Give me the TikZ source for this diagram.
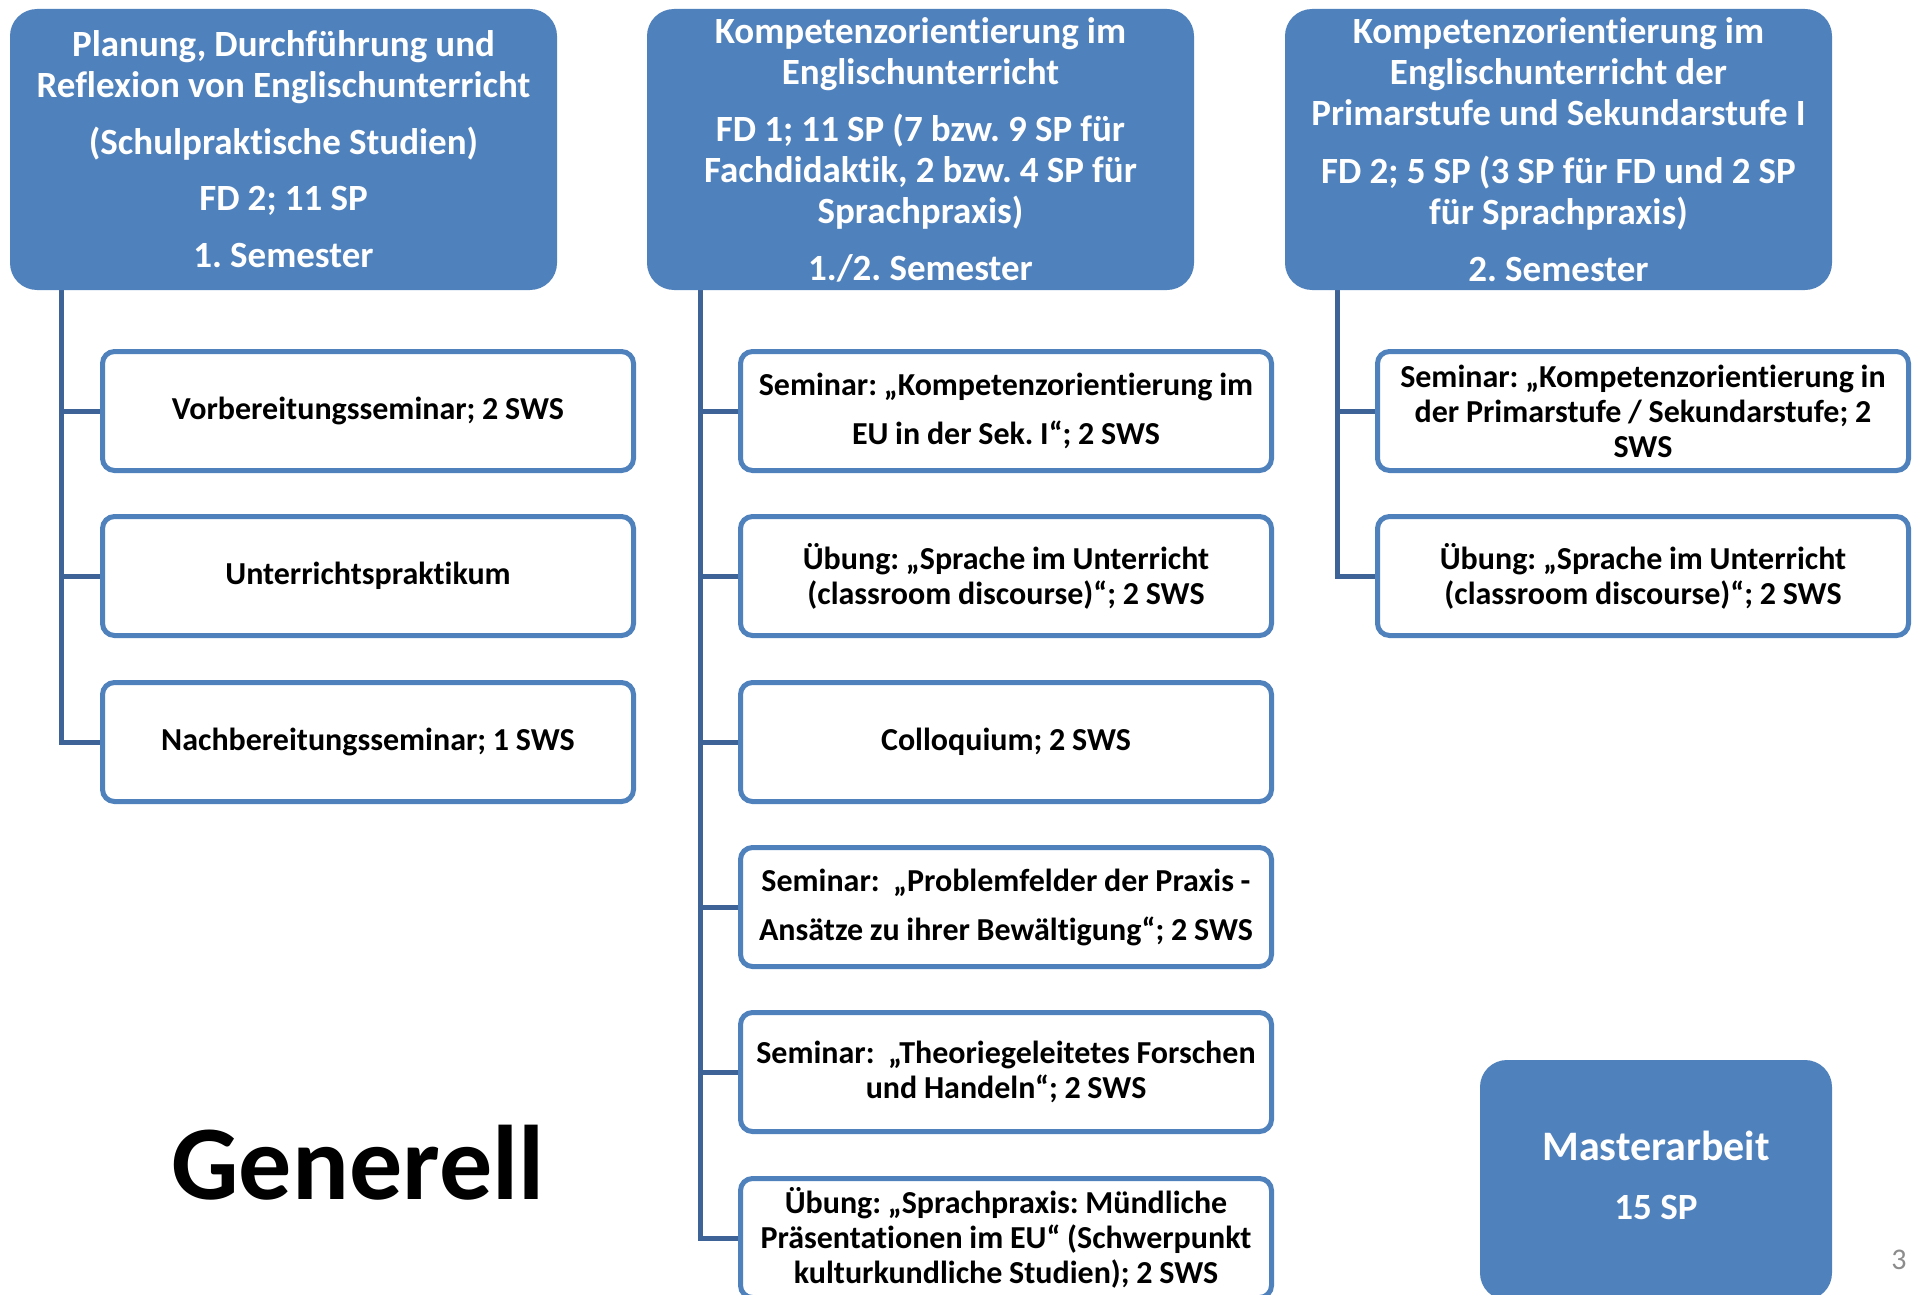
\documentclass[tikz,border=0pt]{standalone}
\usepackage{fontspec}
\setmainfont{Carlito}[Ligatures=NoCommon]
\definecolor{hdrblue}{HTML}{4F81BD}
\definecolor{connblue}{HTML}{3E6397}
\definecolor{pagegray}{HTML}{8C8C8C}
\tikzset{
  hdrbox/.style={draw=none, fill=hdrblue, rounded corners=27pt, text=white,
    font=\fontsize{37}{41}\selectfont\bfseries\frenchspacing, align=center,
    execute at begin node={\spaceskip=0.22em\relax},
    minimum width=547pt, minimum height=281pt, inner sep=0pt, text width=540pt},
  subbox/.style={draw=hdrblue, line width=5pt, fill=white, rounded corners=12pt,
    font=\fontsize{32}{35}\selectfont\bfseries\frenchspacing, align=center,
    execute at begin node={\spaceskip=0.21em\relax},
    minimum width=531pt, minimum height=119pt, inner sep=0pt, text width=528pt},
  connline/.style={draw=connblue, line width=5pt}
}
\begin{document}
\begin{tikzpicture}[x=1pt,y=-1pt]
\useasboundingbox (0,0) rectangle (1915,1295);
\clip (0,0) rectangle (1915,1295);
\fill[white] (0,0) rectangle (1915,1295);

% trunk tops
\coordinate (t1) at (61,285);
\coordinate (t2) at (700,285);
\coordinate (t3) at (1337,285);

% column 1 boxes
\node[subbox] (a1) at (368,411) {Vorbereitungsseminar; 2 SWS};
\node[subbox] (a2) at (368,576) {Unterrichtspraktikum};
\node[subbox] (a3) at (368,742) {Nachbereitungsseminar; 1 SWS};

% column 2 boxes
\node[subbox] (b1) at (1006,411) {Seminar: „Kompetenzorientierung im\\[14pt]EU in der Sek. I“; 2 SWS};
\node[subbox] (b2) at (1006,576) {Übung: „Sprache im Unterricht\\(classroom discourse)“; 2 SWS};
\node[subbox] (b3) at (1006,742) {Colloquium; 2 SWS};
\node[subbox] (b4) at (1006,907) {Seminar:\ \ „Problemfelder der Praxis -\\[14pt]Ansätze zu ihrer Bewältigung“; 2 SWS};
\node[subbox] (b5) at (1006,1072) {Seminar:\ \ „Theoriegeleitetes Forschen\\und Handeln“; 2 SWS};
\node[subbox] (b6) at (1006,1238) {Übung: „Sprachpraxis: Mündliche\\Präsentationen im EU“ (Schwerpunkt\\kulturkundliche Studien); 2 SWS};

% column 3 boxes
\node[subbox] (c1) at (1643,411) {Seminar: „Kompetenzorientierung in\\der Primarstufe / Sekundarstufe; 2\\SWS};
\node[subbox] (c2) at (1643,576) {Übung: „Sprache im Unterricht\\(classroom discourse)“; 2 SWS};

% connectors
\foreach \b in {a1,a2,a3} \draw[connline] (t1) |- (\b.west);
\foreach \b in {b1,b2,b3,b4,b5,b6} \draw[connline] (t2) |- (\b.west);
\foreach \b in {c1,c2} \draw[connline] (t3) |- (\b.west);

% headers
\node[hdrbox] (h1) at (283.5,149.5) {Planung, Durchführung und\\Reflexion von Englischunterricht\\[16pt](Schulpraktische Studien)\\[15pt]FD 2; 11 SP\\[16pt]1. Semester};
\node[hdrbox] (h2) at (920.5,149.5) {Kompetenzorientierung im\\Englischunterricht\\[16pt]FD 1; 11 SP (7 bzw. 9 SP für\\Fachdidaktik, 2 bzw. 4 SP für\\Sprachpraxis)\\[16pt]1./2. Semester};
\node[hdrbox] (h3) at (1558.5,149.5) {Kompetenzorientierung im\\Englischunterricht der\\Primarstufe und Sekundarstufe I\\[17pt]FD 2; 5 SP (3 SP für FD und 2 SP\\für Sprachpraxis)\\[16pt]2. Semester};

% Masterarbeit
\node[draw=none, fill=hdrblue, rounded corners=27pt, minimum width=352pt, minimum height=240pt, inner sep=0pt] (m) at (1656,1180) {};
\node[text=white, font=\fontsize{42}{46}\selectfont\bfseries] (mt1) at (1656,1146) {Masterarbeit};
\node[text=white, font=\fontsize{37}{41}\selectfont\bfseries] (mt2) at (1656,1207) {15 SP};

% Generell
\node[font=\fontsize{106}{120}\selectfont\bfseries] (gen) at (358,1163) {Generell};

% page number
\node[text=pagegray, font=\fontsize{30}{34}\selectfont] (pg) at (1899,1260) {3};
\end{tikzpicture}
\end{document}
